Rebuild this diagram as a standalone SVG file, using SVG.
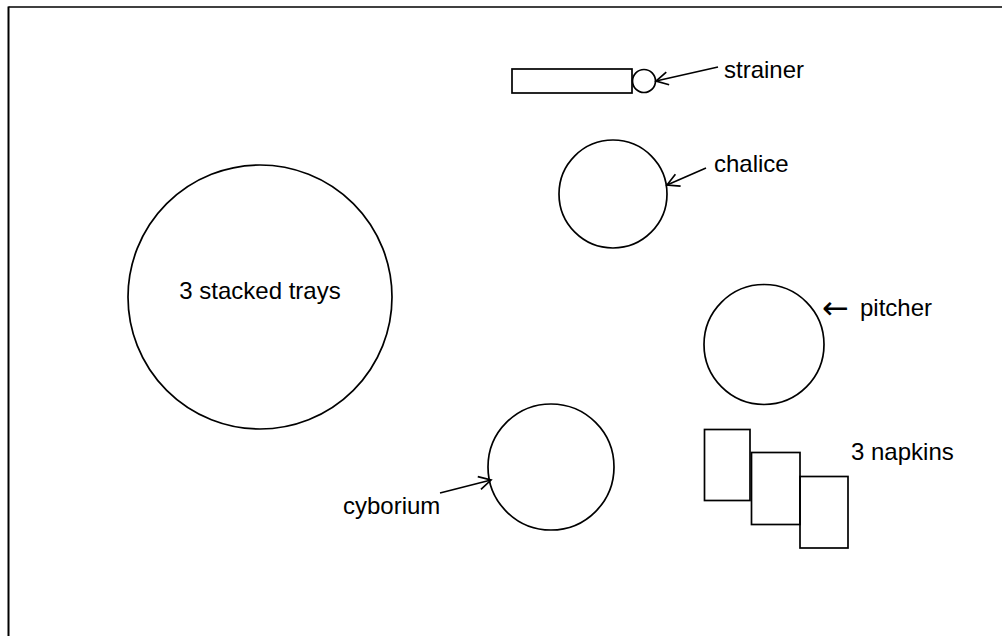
<svg xmlns="http://www.w3.org/2000/svg" width="1002" height="636" viewBox="0 0 1002 636">
<style>
.s{fill:none;stroke:#000;stroke-width:1.7}
.t{font-family:"Liberation Sans",Arial,sans-serif;font-size:24px;fill:#000}
.c{fill:none;stroke:#000;stroke-width:1.7}
</style>
<defs>
<marker id="ah" markerWidth="16" markerHeight="16" refX="13" refY="8" orient="auto" markerUnits="userSpaceOnUse">
<path d="M1,1.5 L13,8 L1,14.5" fill="none" stroke="#000" stroke-width="1.7"/>
</marker>
</defs>
<rect width="1002" height="636" fill="#fff"/>
<g id="border">
<line x1="8.5" y1="7" x2="1002" y2="7" stroke="#000" stroke-width="1.5"/>
<line x1="8.5" y1="6.5" x2="8.5" y2="636" stroke="#000" stroke-width="2"/>
</g>
<g id="strainer">
<rect class="s" x="512" y="69" width="120" height="24"/>
<circle class="s" cx="644" cy="81" r="11.5"/>
<text class="t" x="724" y="78">strainer</text>
</g>
<g id="chalice">
<circle class="s" cx="613" cy="194" r="54"/>
<text class="t" x="714" y="172">chalice</text>
</g>
<g id="trays">
<circle class="s" cx="260" cy="297" r="132"/>
<text class="t" x="260" y="299" text-anchor="middle">3 stacked trays</text>
</g>
<g id="pitcher">
<circle class="s" cx="764" cy="344.5" r="60"/>
<text class="t" y="316"><tspan x="822" y="319" style="font-family:'DejaVu Sans',sans-serif;font-size:32px">←</tspan><tspan x="860" y="316">pitcher</tspan></text>
</g>
<g id="cyborium">
<circle class="s" cx="551" cy="467" r="63"/>
<text class="t" x="343" y="514">cyborium</text>
</g>
<g id="napkins">
<rect class="s" x="704.5" y="429.5" width="45.5" height="71"/>
<rect class="s" x="751.5" y="452.5" width="48.5" height="72"/>
<rect class="s" x="800" y="476.5" width="48" height="71.5"/>
<text class="t" x="851" y="460">3 napkins</text>
</g>
<g id="connectors">
<line class="c" x1="718" y1="67" x2="656" y2="81" marker-end="url(#ah)"/>
<line class="c" x1="706" y1="168" x2="667" y2="185" marker-end="url(#ah)"/>
<line class="c" x1="440" y1="493" x2="491" y2="480" marker-end="url(#ah)"/>
</g>
</svg>
